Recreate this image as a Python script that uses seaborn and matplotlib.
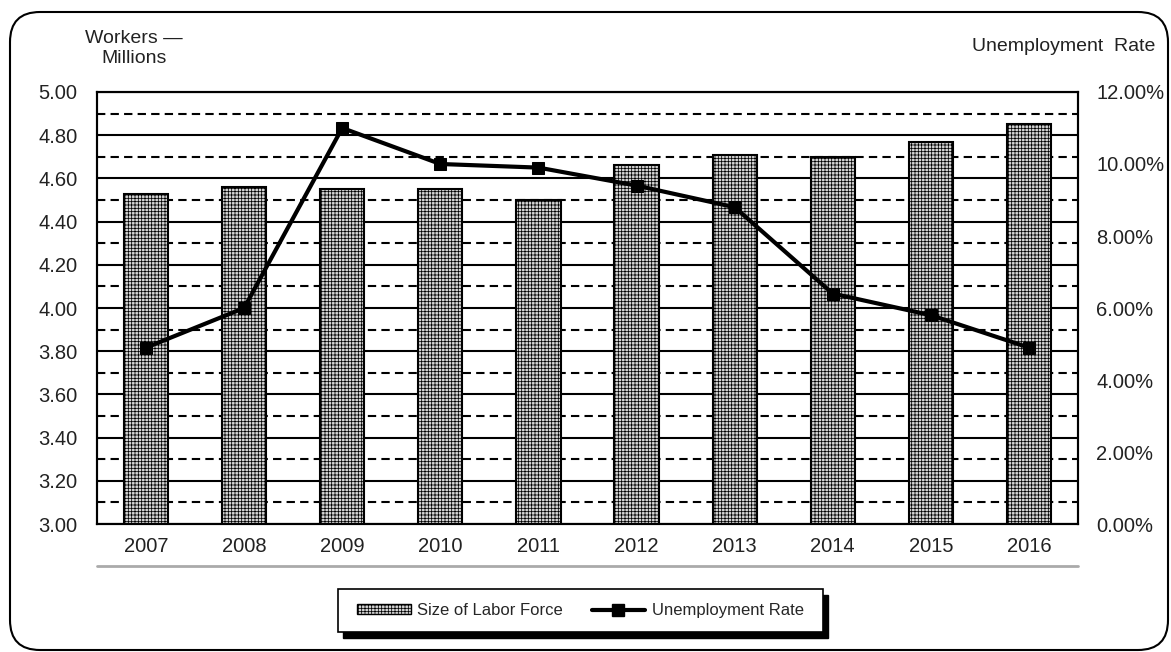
import numpy as np
import pandas as pd
import matplotlib
matplotlib.use('Agg')
import matplotlib.pyplot as plt
import seaborn as sns
from matplotlib.patches import FancyBboxPatch, Rectangle, Patch
from matplotlib.lines import Line2D
from matplotlib.ticker import FuncFormatter

# Values
years = ['2007', '2008', '2009', '2010', '2011', '2012', '2013', '2014', '2015', '2016']
labor_force = [4.53, 4.56, 4.55, 4.55, 4.50, 4.66, 4.71, 4.70, 4.77, 4.85]   # millions
unemployment_rate = [4.9, 6.0, 11.0, 10.0, 9.9, 9.4, 8.8, 6.4, 5.8, 4.9]      # percent

sns.set_theme(style='white')
plt.rcParams['font.family'] = ['Liberation Sans', 'DejaVu Sans']
plt.rcParams['hatch.linewidth'] = 0.55
plt.rcParams['hatch.color'] = 'black'

bar_face = '#d4d4d4'
bar_hatch = '+++++'

fig = plt.figure(figsize=(11.71, 6.52), dpi=100)
ax = fig.add_axes([0.0828, 0.1963, 0.8378, 0.6626])

df = pd.DataFrame({'Year': years, 'Labor': labor_force, 'Rate': unemployment_rate})

# Bars: size of labor force
sns.barplot(data=df, x='Year', y='Labor', color=bar_face, saturation=1, width=0.45,
            edgecolor='black', linewidth=1.5, ax=ax)
for p in ax.patches:
    p.set_hatch(bar_hatch)

ax.set_ylim(3.0, 5.0)
ax.set_yticks(np.arange(3.0, 5.01, 0.2))
ax.set_yticks(np.arange(3.1, 5.0, 0.2), minor=True)
ax.yaxis.set_major_formatter(FuncFormatter(lambda v, p: f'{v:.2f}'))
ax.grid(False)
ax.grid(which='major', axis='y', color='black', lw=1.5, ls='-')
ax.grid(which='minor', axis='y', color='black', lw=1.5, ls=(0, (4, 2.5)))
ax.set_axisbelow(True)
ax.set_xlabel('')
ax.set_ylabel('')

# Line: unemployment rate on the right axis
ax2 = ax.twinx()
sns.lineplot(x=np.arange(len(years)), y=unemployment_rate, ax=ax2, color='black', lw=3,
             marker='s', markersize=9, markeredgecolor='black')
ax2.set_ylim(0, 12)
ax2.set_yticks(np.arange(0, 12.01, 2))
ax2.yaxis.set_major_formatter(FuncFormatter(lambda v, p: f'{v:.2f}%'))
ax2.grid(False)
ax2.set_ylabel('')

ax.set_xlim(-0.5, len(years) - 0.5)
ax.set_xticks(np.arange(len(years)))
ax.set_xticklabels(years)

for a in (ax, ax2):
    for s in a.spines.values():
        s.set_color('black')
        s.set_linewidth(1.5)
ax.tick_params(axis='both', which='both', length=0, labelsize=14.5, colors='#222222')
ax.tick_params(axis='y', pad=14)
ax.tick_params(axis='x', pad=9)
ax2.tick_params(axis='y', which='both', length=0, labelsize=14.5, pad=13, colors='#222222')

# grey rule under the year labels
ax.add_line(Line2D([0, 1], [-0.097, -0.097], transform=ax.transAxes, color='#aaaaaa',
                   lw=2, clip_on=False))

# axis titles
fig.text(134 / 1171, 0.926, 'Workers —\nMillions', ha='center', va='center',
         fontsize=14, linespacing=1.25, color='#222222')
fig.text(1155 / 1171, 0.929, 'Unemployment  Rate', ha='right', va='center',
         fontsize=14, color='#222222')

# outer rounded border
fig.add_artist(FancyBboxPatch((0.10, 0.02), 11.58, 6.38, boxstyle='round,pad=0,rounding_size=0.3',
                              transform=fig.dpi_scale_trans, fill=False, ec='black', lw=1.5))

# legend box with a solid shadow
lx, ly, lw_, lh = 338 / 1171, 1 - 632 / 652, 485 / 1171, 43 / 652
fig.add_artist(Rectangle((lx + 5 / 1171, ly - 6 / 652), lw_, lh, transform=fig.transFigure,
                         fc='black', ec='black', zorder=1))
fig.add_artist(Rectangle((lx, ly), lw_, lh, transform=fig.transFigure,
                         fc='white', ec='black', lw=1.2, zorder=2))
handles = [
    Patch(facecolor=bar_face, edgecolor='black', hatch=bar_hatch, label='Size of Labor Force'),
    Line2D([], [], color='black', lw=3, marker='s', markersize=8, label='Unemployment Rate'),
]
leg = fig.legend(handles=handles, loc='center', bbox_to_anchor=(lx + lw_ / 2, ly + lh / 2),
                 ncol=2, frameon=False, fontsize=12, handlelength=3.2, handleheight=0.5,
                 handletextpad=0.4, columnspacing=1.7)
leg.set_zorder(5)

fig.savefig('out.png', dpi=100)
